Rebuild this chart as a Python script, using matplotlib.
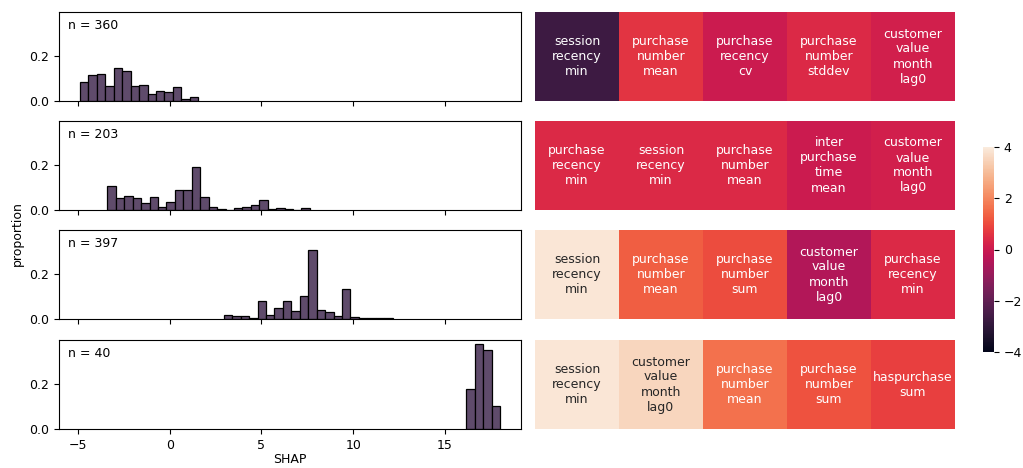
import numpy as np
import matplotlib.pyplot as plt
import seaborn as sns

# -----------------------------
# Data
# -----------------------------
bin_width = 0.46

# left edge of first bin, and bar heights (proportion) for each cluster
hist_start = [-4.89, -3.40, 2.95, 16.16]
hist_props = [
    [0.083, 0.113, 0.121, 0.065, 0.148, 0.135, 0.068, 0.073, 0.030, 0.046,
     0.041, 0.062, 0.010, 0.016],
    [0.108, 0.054, 0.064, 0.054, 0.030, 0.059, 0.015, 0.034, 0.089, 0.089,
     0.192, 0.059, 0.015, 0.005, 0.0, 0.010, 0.015, 0.020, 0.044, 0.005,
     0.010, 0.005, 0.0, 0.010],
    [0.018, 0.013, 0.013, 0.005, 0.081, 0.018, 0.050, 0.081, 0.035, 0.101,
     0.307, 0.040, 0.030, 0.013, 0.134, 0.008, 0.003, 0.003, 0.003, 0.003],
    [0.175, 0.375, 0.35, 0.10],
]
cluster_n = [360, 203, 397, 40]

top_features = [
    ["session_recency_min", "purchase_number_mean", "purchase_recency_cv",
     "purchase_number_stddev", "customer_value_month_lag0"],
    ["purchase_recency_min", "session_recency_min", "purchase_number_mean",
     "inter_purchase_time_mean", "customer_value_month_lag0"],
    ["session_recency_min", "purchase_number_mean", "purchase_number_sum",
     "customer_value_month_lag0", "purchase_recency_min"],
    ["session_recency_min", "customer_value_month_lag0", "purchase_number_mean",
     "purchase_number_sum", "haspurchase_sum"],
]
top_values = [
    [-2.7, 0.6, 0.0, 0.4, 0.15],
    [0.4, 0.4, 0.4, 0.0, 0.15],
    [3.9, 1.3, 1.0, -0.5, 0.4],
    [3.9, 3.55, 1.6, 1.1, 0.8],
]

# -----------------------------
# Figure
# -----------------------------
fig = plt.figure(figsize=(10.23, 4.68), dpi=100)
W, H = 1023, 468

hist_axes = []
row_tops = [12, 121, 230, 340]
row_h = 89
cmap = sns.color_palette("rocket", as_cmap=True)
cbar_ax = fig.add_axes([983 / W, 1 - 352 / H, 11 / W, 205 / H])

for i in range(4):
    bottom = 1 - (row_tops[i] + row_h) / H
    if i == 0:
        ax = fig.add_axes([59 / W, bottom, 462 / W, row_h / H])
    else:
        ax = fig.add_axes([59 / W, bottom, 462 / W, row_h / H],
                          sharex=hist_axes[0], sharey=hist_axes[0])
    hist_axes.append(ax)

    props = np.array(hist_props[i])
    lefts = hist_start[i] + bin_width * np.arange(len(props))
    ax.bar(lefts, props, width=bin_width, align="edge",
           color="#5f4b6b", edgecolor="black", linewidth=0.9)
    ax.text(0.02, 0.92, f"n = {cluster_n[i]}", transform=ax.transAxes,
            va="top", ha="left", fontsize=9)
    ax.set_yticks([0.0, 0.2])
    ax.tick_params(labelsize=9)
    if i < 3:
        ax.tick_params(labelbottom=False)

    # heatmap row with top features
    hax = fig.add_axes([535 / W, bottom, 420 / W, row_h / H])
    labels = np.array([[f.replace("_", "\n") for f in top_features[i]]])
    sns.heatmap(np.array([top_values[i]]), ax=hax, cmap=cmap, vmin=-4, vmax=4,
                annot=labels, fmt="", annot_kws={"fontsize": 9},
                cbar=(i == 0), cbar_ax=cbar_ax if i == 0 else None,
                xticklabels=False, yticklabels=False)

hist_axes[0].set_ylim(0, 0.394)
hist_axes[-1].set_xlabel("SHAP", fontsize=9, labelpad=1)
cbar_ax.set_yticks([-4, -2, 0, 2, 4])
cbar_ax.tick_params(labelsize=9)
fig.text(17 / W, 0.5, "proportion", rotation=90, va="center", ha="center",
         fontsize=9)

plt.savefig("out.png", dpi=100)
